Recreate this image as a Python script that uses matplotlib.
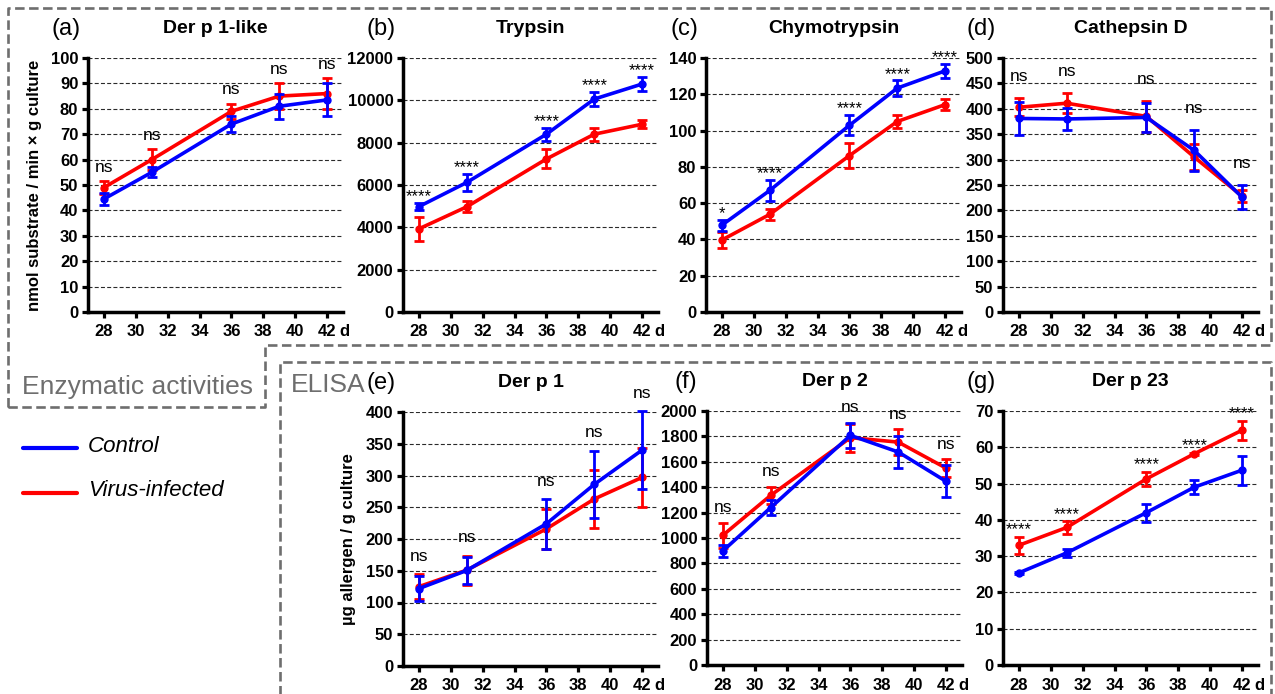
import matplotlib
matplotlib.use("Agg")
import matplotlib.pyplot as plt
from matplotlib.lines import Line2D
import numpy as np

plt.rcParams['font.family'] = ['Liberation Sans', 'DejaVu Sans']

# ---------------- data ----------------
days = [28, 31, 36, 39, 42]
xticks = [28, 30, 32, 34, 36, 38, 40, 42]

a_ctrl = [44.5, 55, 74, 81, 83.5]
a_ctrl_err = [2.5, 2, 3, 5, 6.5]
a_vir = [49, 60, 79, 85, 86]
a_vir_err = [2.5, 4, 3, 5, 6]
a_sig = ['ns', 'ns', 'ns', 'ns', 'ns']

b_ctrl = [4980, 6120, 8400, 10060, 10770]
b_ctrl_err = [150, 380, 300, 320, 350]
b_vir = [3930, 4970, 7230, 8400, 8870]
b_vir_err = [580, 260, 450, 300, 200]
b_sig = ['****', '****', '****', '****', '****']

c_ctrl = [47.9, 67, 102.9, 123.4, 132.9]
c_ctrl_err = [3, 6, 5.5, 4.2, 4]
c_vir = [39.7, 53.8, 86.2, 105, 114.3]
c_vir_err = [4.3, 3, 7, 3.5, 3]
c_sig = ['*', '****', '****', '****', '****']

d_ctrl = [381, 380, 383, 318, 226]
d_ctrl_err = [32, 22, 28, 41, 24]
d_vir = [403, 411, 385, 305, 228]
d_vir_err = [18, 20, 31, 26, 12]
d_sig = ['ns', 'ns', 'ns', 'ns', 'ns']

e_ctrl = [122, 150.5, 224, 286, 340]
e_ctrl_err = [19, 21, 39, 53, 61]
e_vir = [125, 151, 216, 263, 297]
e_vir_err = [20, 23, 31, 45, 46]
e_sig = ['ns', 'ns', 'ns', 'ns', 'ns']

f_ctrl = [899, 1240, 1808, 1677, 1446]
f_ctrl_err = [45, 60, 100, 125, 125]
f_vir = [1022, 1336, 1790, 1755, 1550]
f_vir_err = [100, 65, 110, 100, 70]
f_sig = ['ns', 'ns', 'ns', 'ns', 'ns']

g_ctrl = [25.4, 30.9, 42, 49, 53.7]
g_ctrl_err = [0.2, 1, 2.5, 2, 4]
g_vir = [33, 37.9, 51.3, 58.2, 64.7]
g_vir_err = [2.3, 1.7, 2, 0.3, 2.6]
g_sig = ['****', '****', '****', '****', '****']

titles = ['Der p 1-like', 'Trypsin', 'Chymotrypsin', 'Cathepsin D',
          'Der p 1', 'Der p 2', 'Der p 23']
letters = ['(a)', '(b)', '(c)', '(d)', '(e)', '(f)', '(g)']
ymaxes = [100, 12000, 140, 500, 400, 2000, 70]
ysteps = [10, 2000, 20, 50, 50, 200, 10]
ylabel_top = 'nmol substrate / min × g culture'
ylabel_bottom = 'µg allergen / g culture'
legend_labels = ['Control', 'Virus-infected']
box_labels = ['Enzymatic activities', 'ELISA']

# ---------------- figure ----------------
W, H = 1275, 694
fig = plt.figure(figsize=(W / 100, H / 100), dpi=100)

BLUE = '#0000ff'
RED = '#ff0000'
GRAY = '#6e6e6e'


def px_axes(left, top, width, height):
    return fig.add_axes([left / W, 1 - (top + height) / H, width / W, height / H])


panel_px = [
    (88, 58), (403, 58), (706, 58), (1003, 58),
    (403, 412), (707, 411), (1003, 411),
]
AW, AH = 255, 254
# vertical gap (fraction of y range) between top of error bar and significance label
sig_gap = [0.055, 0.025, 0.025, 0.085, 0.07, 0.06, 0.028]

datasets = [
    (a_ctrl, a_ctrl_err, a_vir, a_vir_err, a_sig),
    (b_ctrl, b_ctrl_err, b_vir, b_vir_err, b_sig),
    (c_ctrl, c_ctrl_err, c_vir, c_vir_err, c_sig),
    (d_ctrl, d_ctrl_err, d_vir, d_vir_err, d_sig),
    (e_ctrl, e_ctrl_err, e_vir, e_vir_err, e_sig),
    (f_ctrl, f_ctrl_err, f_vir, f_vir_err, f_sig),
    (g_ctrl, g_ctrl_err, g_vir, g_vir_err, g_sig),
]

for i, ((lx, ty), (ctrl, cerr, vir, verr, sig)) in enumerate(zip(panel_px, datasets)):
    ax = px_axes(lx, ty, AW, AH)
    ymax = ymaxes[i]
    step = ysteps[i]
    ax.set_xlim(27, 43)
    ax.set_ylim(0, ymax)
    yt = np.arange(0, ymax + step / 2, step)
    ax.set_yticks(yt)
    ax.set_yticklabels([f'{v:g}' for v in yt])
    ax.set_xticks(xticks)
    ax.set_xticklabels([str(t) for t in xticks])
    for v in yt[1:]:
        ax.axhline(v, color='#2a2a2a', lw=0.8, ls=(0, (3.6, 2.0)), zorder=0.5)
    for s in ['top', 'right']:
        ax.spines[s].set_visible(False)
    for s in ['left', 'bottom']:
        ax.spines[s].set_linewidth(2.5)
    ax.tick_params(axis='both', width=2.3, length=4.5, direction='out')
    ax.tick_params(axis='x', pad=4.5)
    ax.tick_params(axis='y', pad=2.5)
    for lab in ax.get_yticklabels():
        lab.set_fontweight('bold')
        lab.set_fontsize(12)
    for lab in ax.get_xticklabels():
        lab.set_fontweight('bold')
        lab.set_fontsize(12)
    ax.annotate('d', xy=(43, 0), xycoords=ax.get_xaxis_transform(),
                xytext=(-2.5, -9.0), textcoords='offset points',
                ha='left', va='top', fontsize=12, fontweight='bold',
                annotation_clip=False)

    for vals, errs, col, z in [(vir, verr, RED, 3), (ctrl, cerr, BLUE, 4)]:
        ax.errorbar(days, vals, yerr=errs, color=col, lw=2.6, marker='o',
                    markersize=5, capsize=3.8, capthick=2.0, elinewidth=2.0,
                    zorder=z, clip_on=False)

    for k, d in enumerate(days):
        top = max(ctrl[k] + cerr[k], vir[k] + verr[k])
        if sig[k] == 'ns':
            ax.text(d, top + sig_gap[i] * ymax, sig[k], ha='center', va='center',
                    fontsize=12.5, clip_on=False)
        else:
            ax.text(d, top + sig_gap[i] * ymax, sig[k], ha='center', va='center',
                    fontsize=12, clip_on=False)

    ax.text(0.5, 1.115, titles[i], transform=ax.transAxes, ha='center',
            va='center', fontsize=14, fontweight='bold')
    ax.text(-0.085, 1.115, letters[i], transform=ax.transAxes, ha='center',
            va='center', fontsize=17)
    if i == 0:
        ax.set_ylabel(ylabel_top, fontsize=12, fontweight='bold')
        ax.yaxis.set_label_coords(-0.18, 0.5)
    if i == 4:
        ax.set_ylabel(ylabel_bottom, fontsize=12, fontweight='bold')
        ax.yaxis.set_label_coords(-0.185, 0.5)

# ---------------- dashed boxes ----------------
def fig_line(xs, ys):
    fig.add_artist(Line2D([x / W for x in xs], [1 - y / H for y in ys],
                          color=GRAY, lw=1.9, ls=(0, (3.6, 1.7)),
                          transform=fig.transFigure))


fig_line([8, 8, 1271, 1271, 265, 265, 8], [407, 8, 8, 345, 345, 407, 407])
fig_line([280, 280, 1271, 1271], [700, 362, 362, 700])

fig.text(22 / W, 1 - 387 / H, box_labels[0], color=GRAY, fontsize=19,
         ha='left', va='center')
fig.text(291 / W, 1 - 385 / H, box_labels[1], color=GRAY, fontsize=19,
         ha='left', va='center')

# ---------------- legend ----------------
fig.add_artist(Line2D([23 / W, 77 / W], [1 - 448 / H, 1 - 448 / H], color=BLUE,
                      lw=3, solid_capstyle='round', transform=fig.transFigure))
fig.add_artist(Line2D([23 / W, 77 / W], [1 - 493 / H, 1 - 493 / H], color=RED,
                      lw=3, solid_capstyle='round', transform=fig.transFigure))
fig.text(88 / W, 1 - 446 / H, legend_labels[0], fontsize=16, style='italic',
         ha='left', va='center')
fig.text(88 / W, 1 - 491 / H, legend_labels[1], fontsize=16, style='italic',
         ha='left', va='center')

fig.savefig('out.png', dpi=100)
